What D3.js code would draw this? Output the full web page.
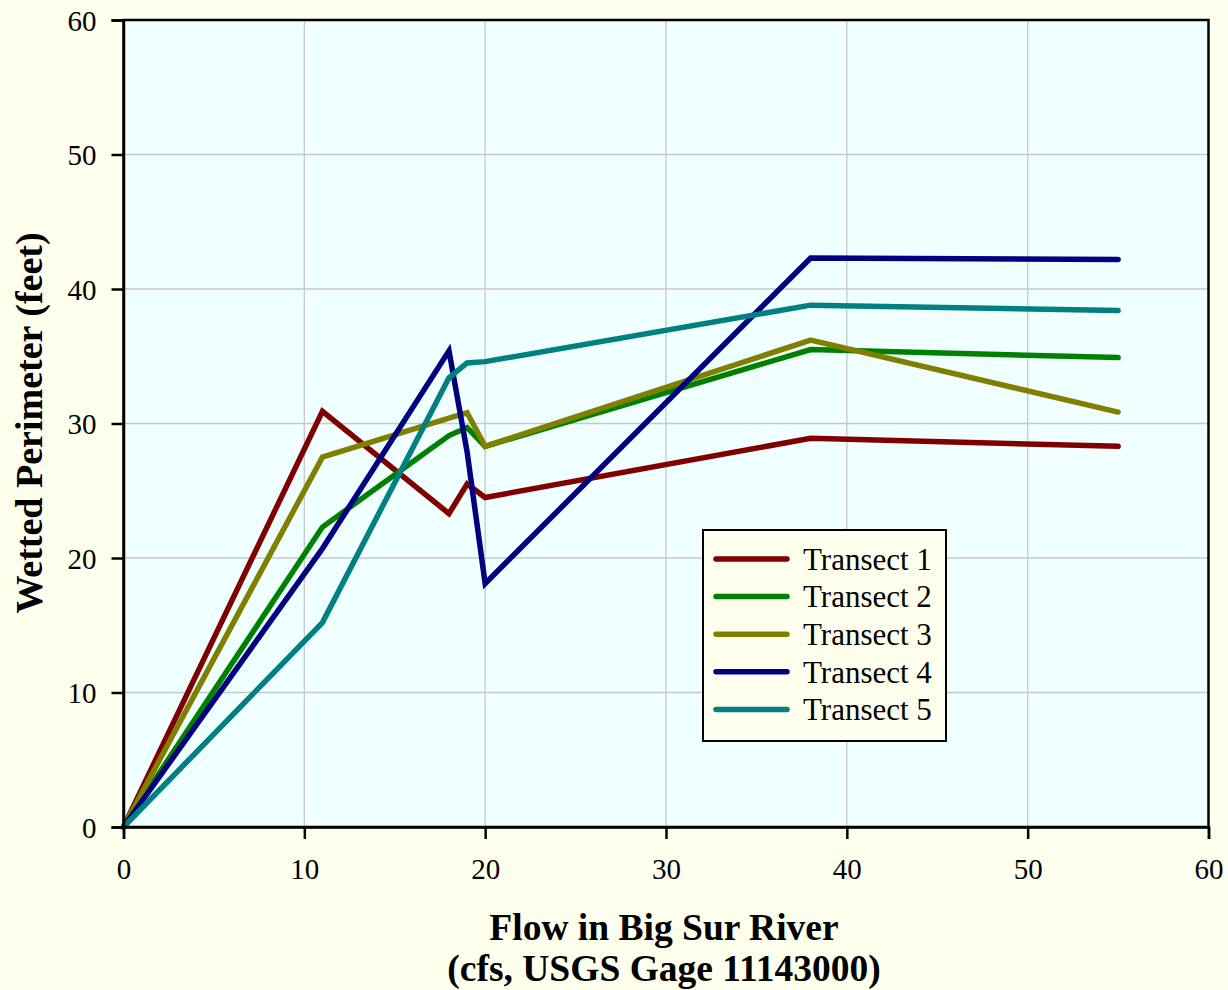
<!DOCTYPE html>
<html>
<head>
<meta charset="utf-8">
<script src="https://cdn.jsdelivr.net/npm/d3@7"></script>
<style>
  html, body { margin: 0; padding: 0; background: #FFFFEE; }
  svg { display: block; }
  text { font-family: "Liberation Serif", "Times New Roman", serif; fill: #000; }
</style>
</head>
<body>
<svg id="chart" width="1228" height="990"></svg>
<script>
// Flow (cfs) at which each transect was measured
const flows = [0, 11, 18, 19, 20, 38, 55];

// Wetted perimeter (feet) for each transect
const transect1 = [0, 30.9, 23.3, 25.5, 24.5, 28.9, 28.3];
const transect2 = [0, 22.3, 29.1, 29.7, 28.3, 35.5, 34.9];
const transect3 = [0, 27.5, 30.4, 30.8, 28.3, 36.2, 30.85];
const transect4 = [0, 20.7, 35.4, 27.9, 18.1, 42.3, 42.2];
const transect5 = [0, 15.2, 33.4, 34.5, 34.6, 38.8, 38.4];

const seriesNames = ["Transect 1", "Transect 2", "Transect 3", "Transect 4", "Transect 5"];
const seriesColors = ["#800000", "#008000", "#808000", "#000080", "#008080"];

const xTicks = [0, 10, 20, 30, 40, 50, 60];
const yTicks = [0, 10, 20, 30, 40, 50, 60];

const series = [transect1, transect2, transect3, transect4, transect5].map((vals, i) => ({
  name: seriesNames[i],
  color: seriesColors[i],
  points: flows.map((f, j) => ({ x: f, y: vals[j] }))
}));

const svg = d3.select("#chart");
const plot = { left: 123.5, top: 20, right: 1208.5, bottom: 827 };

const x = d3.scaleLinear().domain([0, 60]).range([plot.left, plot.right]);
const y = d3.scaleLinear().domain([0, 60]).range([plot.bottom, plot.top]);

// Plot background
svg.append("rect")
  .attr("x", plot.left).attr("y", plot.top)
  .attr("width", plot.right - plot.left).attr("height", plot.bottom - plot.top)
  .attr("fill", "#F0FFFF");

// Gridlines
const grid = svg.append("g").attr("stroke", "#C8C8C8").attr("stroke-width", 1.3);
grid.selectAll("line.v").data(xTicks.slice(1, -1)).join("line")
  .attr("x1", d => x(d)).attr("x2", d => x(d))
  .attr("y1", plot.top).attr("y2", plot.bottom);
grid.selectAll("line.h").data(yTicks.slice(1, -1)).join("line")
  .attr("x1", plot.left).attr("x2", plot.right)
  .attr("y1", d => y(d)).attr("y2", d => y(d));

// Series lines
const line = d3.line().x(d => x(d.x)).y(d => y(d.y));
svg.append("g").selectAll("path").data(series).join("path")
  .attr("d", d => line(d.points))
  .attr("fill", "none")
  .attr("stroke", d => d.color)
  .attr("stroke-width", 5.5)
  .attr("stroke-linejoin", "miter")
  .attr("stroke-linecap", "round");

// Plot frame
svg.append("rect")
  .attr("x", plot.left).attr("y", plot.top)
  .attr("width", plot.right - plot.left).attr("height", plot.bottom - plot.top)
  .attr("fill", "none").attr("stroke", "#000").attr("stroke-width", 2.5);

// Axes
const xAxis = svg.append("g")
  .attr("transform", `translate(0,${plot.bottom})`)
  .call(d3.axisBottom(x).tickValues(xTicks).tickSize(12).tickPadding(19).tickFormat(d3.format("d")));
const yAxis = svg.append("g")
  .attr("transform", `translate(${plot.left},0)`)
  .call(d3.axisLeft(y).tickValues(yTicks).tickSize(12).tickPadding(15).tickFormat(d3.format("d")));
[xAxis, yAxis].forEach(a => {
  a.select(".domain").attr("stroke", "#000").attr("stroke-width", 2.5);
  a.selectAll(".tick line").attr("stroke", "#000").attr("stroke-width", 2.5);
  a.selectAll(".tick text")
    .style("font-family", '"Liberation Serif", "Times New Roman", serif')
    .style("font-size", "29px").attr("fill", "#000");
});
yAxis.selectAll(".tick text").attr("dy", "0.35em");

// Axis titles
svg.append("text")
  .attr("transform", "translate(42,423) rotate(-90)")
  .attr("text-anchor", "middle")
  .style("font-size", "38px").style("font-weight", "bold")
  .text("Wetted Perimeter (feet)");
svg.append("text")
  .attr("x", 664).attr("y", 940)
  .attr("text-anchor", "middle")
  .style("font-size", "37.5px").style("font-weight", "bold")
  .text("Flow in Big Sur River");
svg.append("text")
  .attr("x", 664).attr("y", 981)
  .attr("text-anchor", "middle")
  .style("font-size", "37.5px").style("font-weight", "bold")
  .text("(cfs, USGS Gage 11143000)");

// Legend
const legend = svg.append("g").attr("transform", "translate(703,530)");
legend.append("rect")
  .attr("width", 243).attr("height", 211)
  .attr("fill", "#FFFFEE").attr("stroke", "#000").attr("stroke-width", 2);
const items = legend.selectAll("g.item").data(series).join("g")
  .attr("class", "item")
  .attr("transform", (d, i) => `translate(0,${29 + i * 37.6})`);
items.append("line")
  .attr("x1", 13).attr("x2", 84).attr("y1", 0).attr("y2", 0)
  .attr("stroke", d => d.color).attr("stroke-width", 5.5).attr("stroke-linecap", "round");
items.append("text")
  .attr("x", 100).attr("y", 0).attr("dy", "0.35em")
  .style("font-size", "31px")
  .text(d => d.name);
</script>
</body>
</html>
